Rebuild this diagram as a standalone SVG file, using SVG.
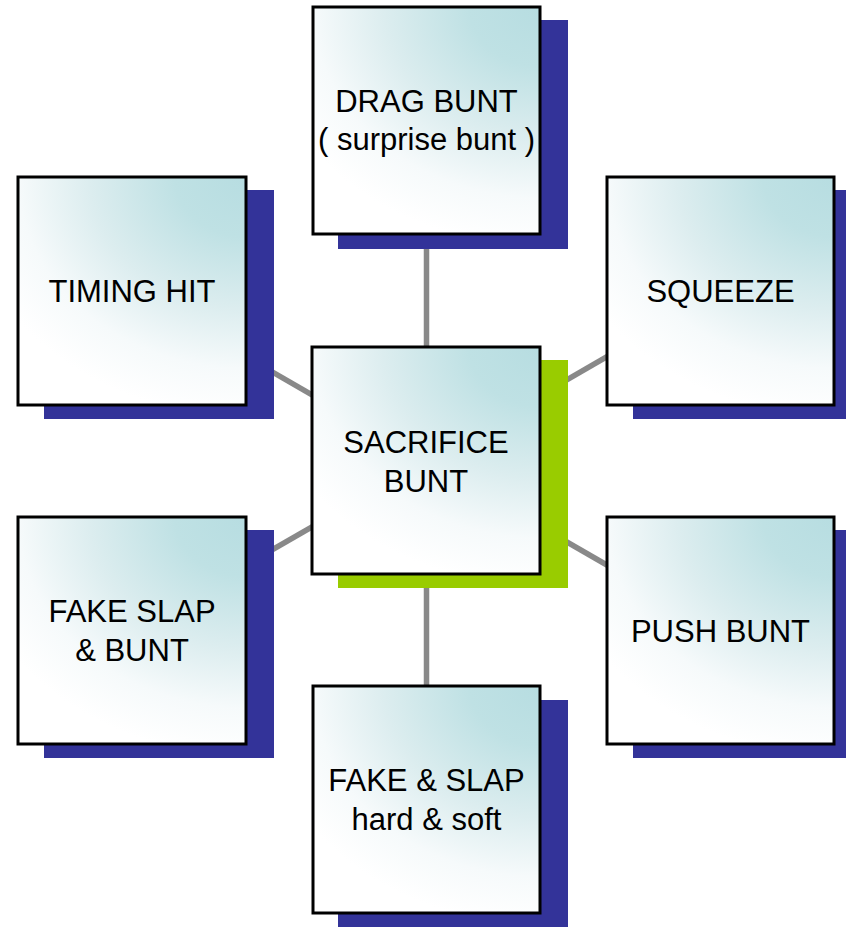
<svg xmlns="http://www.w3.org/2000/svg" width="846" height="927" viewBox="0 0 846 927">
<defs>
<radialGradient id="g" cx="1" cy="0" r="1" gradientUnits="objectBoundingBox" gradientTransform="translate(1 0) scale(1.25 1.05) translate(-1 0)">
<stop offset="0" stop-color="#b7dde1"/>
<stop offset="0.25" stop-color="#bfe1e4"/>
<stop offset="0.55" stop-color="#dcedef"/>
<stop offset="0.8" stop-color="#f6fafb"/>
<stop offset="1" stop-color="#ffffff"/>
</radialGradient>
</defs>
<style>
.sh{fill:#333399}
.shc{fill:#99cc00}
.bx{fill:url(#g);stroke:#000;stroke-width:3}
.t{font-family:"Liberation Sans",Arial,sans-serif;font-size:31px;fill:#000;text-anchor:middle}
.c{stroke:#898989;stroke-width:5.5;fill:none}
</style>
<rect width="846" height="927" fill="#fff"/>
<g id="connectors">
<line class="c" x1="426.5" y1="461" x2="426.5" y2="120.5"/>
<line class="c" x1="426.5" y1="461" x2="426.5" y2="799.5"/>
<line class="c" x1="426.5" y1="461" x2="132" y2="291"/>
<line class="c" x1="426.5" y1="461" x2="720.5" y2="291"/>
<line class="c" x1="426.5" y1="461" x2="132" y2="630.5"/>
<line class="c" x1="426.5" y1="461" x2="720.5" y2="630.5"/>
</g>
<g id="drag-bunt">
<rect class="sh" x="338" y="20" width="230" height="229"/>
<rect class="bx" x="313" y="7" width="227" height="227"/>
<text class="t" x="426.5" y="112">DRAG BUNT</text>
<text class="t" x="426.5" y="150">( surprise bunt )</text>
</g>
<g id="timing-hit">
<rect class="sh" x="44" y="190" width="230" height="229"/>
<rect class="bx" x="18" y="177" width="228" height="228"/>
<text class="t" x="132" y="302">TIMING HIT</text>
</g>
<g id="squeeze">
<rect class="sh" x="633" y="190" width="213" height="229"/>
<rect class="bx" x="607" y="177" width="227" height="228"/>
<text class="t" x="720.5" y="302">SQUEEZE</text>
</g>
<g id="fake-slap-bunt">
<rect class="sh" x="44" y="530" width="230" height="228"/>
<rect class="bx" x="18" y="517" width="228" height="227"/>
<text class="t" x="132" y="622">FAKE SLAP</text>
<text class="t" x="132" y="661">&amp; BUNT</text>
</g>
<g id="push-bunt">
<rect class="sh" x="633" y="530" width="213" height="228"/>
<rect class="bx" x="607" y="517" width="227" height="227"/>
<text class="t" x="720.5" y="642">PUSH BUNT</text>
</g>
<g id="fake-slap-hard-soft">
<rect class="sh" x="338" y="700" width="230" height="227"/>
<rect class="bx" x="313" y="686" width="227" height="227"/>
<text class="t" x="426.5" y="791">FAKE &amp; SLAP</text>
<text class="t" x="426.5" y="830">hard &amp; soft</text>
</g>
<g id="sacrifice-bunt">
<rect class="shc" x="338" y="360" width="230" height="228"/>
<rect class="bx" x="312" y="347" width="228" height="227"/>
<text class="t" x="426" y="453">SACRIFICE</text>
<text class="t" x="426" y="492">BUNT</text>
</g>
</svg>
